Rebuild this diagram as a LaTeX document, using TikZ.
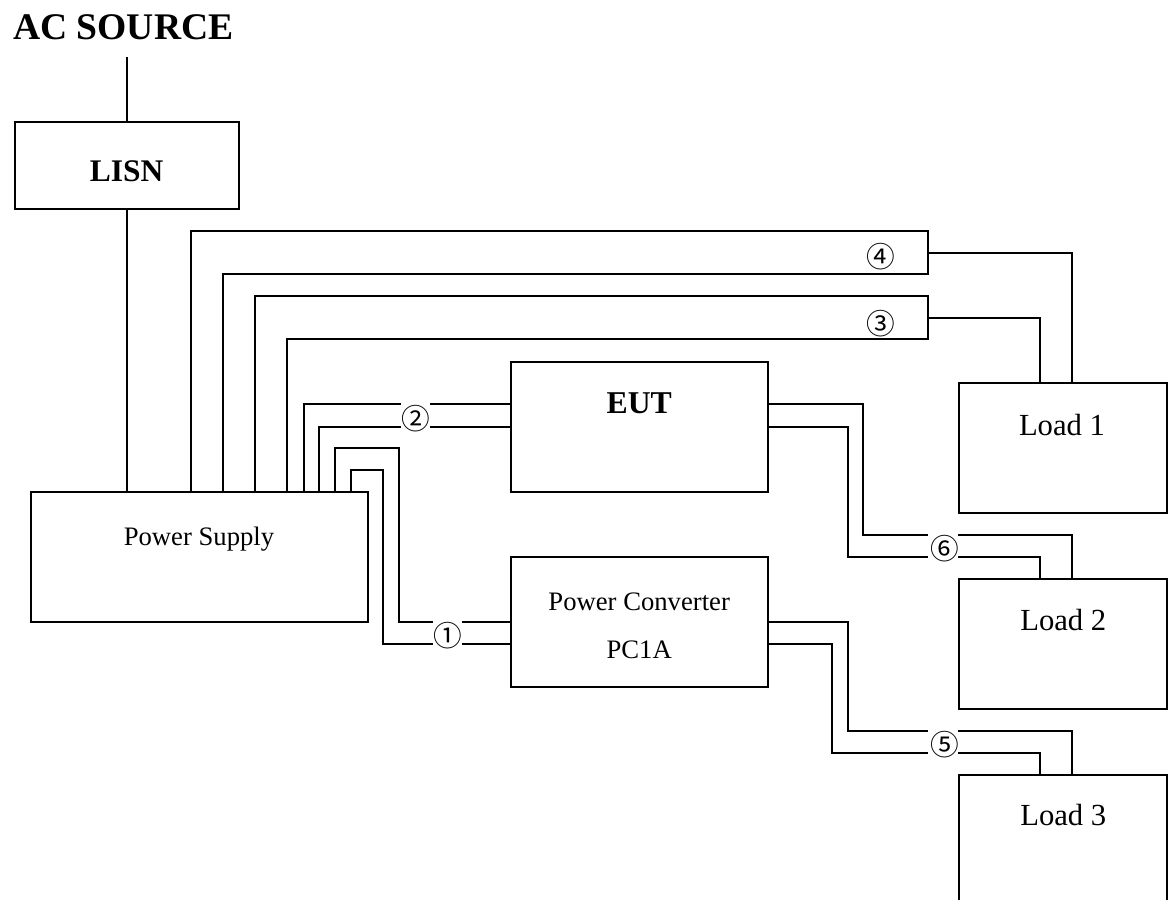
\documentclass[tikz,border=0pt]{standalone}
\usepackage{fontspec}
\setmainfont{Liberation Serif}
\newfontfamily\circfont{Noto Sans CJK JP}
\begin{document}
\begin{tikzpicture}[x=0.75pt,y=-0.75pt,
  line width=1.5pt,
  box/.style={draw, rectangle, inner sep=0pt, outer sep=0pt},
  txt/.style={inner sep=0pt, anchor=base},
  circ/.style={inner sep=0pt, font=\circfont\fontsize{21.5}{21.5}\selectfont},
  wire/.style={draw, line cap=rect, line join=miter}]
\useasboundingbox (0,0) rectangle (1170,899);

% boxes
\node[box, minimum width=224*0.75pt, minimum height=87*0.75pt] (lisn) at (127,165.5) {};
\node[box, minimum width=336.4*0.75pt, minimum height=130.6*0.75pt] (ps) at (199.5,557) {};
\node[box, minimum width=256.4*0.75pt, minimum height=130*0.75pt] (eut) at (639.5,426.7) {};
\node[box, minimum width=256.4*0.75pt, minimum height=130*0.75pt] (pc) at (639.5,622.3) {};
\node[box, minimum width=208*0.75pt, minimum height=130*0.75pt] (l1) at (1063.3,448.3) {};
\node[box, minimum width=208*0.75pt, minimum height=130*0.75pt] (l2) at (1063.3,644) {};
\node[box, minimum width=208*0.75pt, minimum height=130*0.75pt] (l3) at (1063.3,839.7) {};

% texts
\node[inner sep=0pt, anchor=base west, font=\bfseries\fontsize{28.2}{30}\selectfont] (ac) at (12,40) {AC SOURCE};
\node[txt, font=\bfseries\fontsize{23.6}{25}\selectfont] (tlisn) at (126.7,181) {LISN};
\node[txt, font=\bfseries\fontsize{23.8}{25}\selectfont] (teut) at (639.2,413.3) {EUT};
\node[txt, font=\fontsize{20}{22}\selectfont] (tps) at (199,545) {Power Supply};
\node[txt, font=\fontsize{20}{22}\selectfont] (tpc1) at (639.2,610) {Power Converter};
\node[txt, font=\fontsize{20}{22}\selectfont] (tpc2) at (639.2,658.3) {PC1A};
\node[txt, font=\fontsize{23}{25}\selectfont] (tl1) at (1062,435) {Load 1};
\node[txt, font=\fontsize{23}{25}\selectfont] (tl2) at (1063.3,630.7) {Load 2};
\node[txt, font=\fontsize{23}{25}\selectfont] (tl3) at (1063.3,825.7) {Load 3};

% circled numbers
\node[circ] (n1) at (448.3,636) {①};
\node[circ] (n2) at (415.7,419) {②};
\node[circ] (n3) at (880.7,323.5) {③};
\node[circ] (n4) at (880.7,256.7) {④};
\node[circ] (n5) at (945,745) {⑤};
\node[circ] (n6) at (945,549) {⑥};

% AC source and LISN
\coordinate (acend) at (127,57);
\draw (acend) -- (lisn.north);
\draw (lisn.south) -- (127,0 |- ps.north);

% cable 4
\draw[wire] (191.3,0 |- ps.north) -- (191.3,231) -- (927.7,231) -- (927.7,274.3) -- (223.3,274.3) -- (223.3,0 |- ps.north);
\draw[wire] (927.7,252.7) -- (1071.7,252.7) -- (1071.7,0 |- l1.north);
% cable 3
\draw[wire] (255.3,0 |- ps.north) -- (255.3,296) -- (927.7,296) -- (927.7,339) -- (287.3,339) -- (287.3,0 |- ps.north);
\draw[wire] (927.7,317.7) -- (1040,317.7) -- (1040,0 |- l1.north);
% cable 2
\draw[wire] (303.7,0 |- ps.north) -- (303.7,404.3) -- (400,404.3);
\draw[wire] (431,404.3) -- (eut.west |- 0,404.3);
\draw[wire] (319.3,0 |- ps.north) -- (319.3,426.7) -- (400,426.7);
\draw[wire] (431,426.7) -- (eut.west |- 0,426.7);
% cable 1
\draw[wire] (335.3,0 |- ps.north) -- (335.3,448.3) -- (399.3,448.3) -- (399.3,622.3) -- (431.7,622.3);
\draw[wire] (463.3,622.3) -- (pc.west |- 0,622.3);
\draw[wire] (351.3,0 |- ps.north) -- (351.3,469.7) -- (383.3,469.7) -- (383.3,644) -- (431.7,644);
\draw[wire] (463.3,644) -- (pc.west |- 0,644);
% cable 6
\draw[wire] (eut.east |- 0,404.3) -- (863.3,404.3) -- (863.3,535) -- (926.7,535);
\draw[wire] (959.3,535) -- (1071.7,535) -- (1071.7,0 |- l2.north);
\draw[wire] (eut.east |- 0,426.7) -- (847.7,426.7) -- (847.7,556.7) -- (926.7,556.7);
\draw[wire] (959.3,556.7) -- (1040,556.7) -- (1040,0 |- l2.north);
% cable 5
\draw[wire] (pc.east |- 0,622.3) -- (847.7,622.3) -- (847.7,730.7) -- (926.7,730.7);
\draw[wire] (959.3,730.7) -- (1071.7,730.7) -- (1071.7,0 |- l3.north);
\draw[wire] (pc.east |- 0,644) -- (831.7,644) -- (831.7,752.7) -- (926.7,752.7);
\draw[wire] (959.3,752.7) -- (1040,752.7) -- (1040,0 |- l3.north);
\end{tikzpicture}
\end{document}
